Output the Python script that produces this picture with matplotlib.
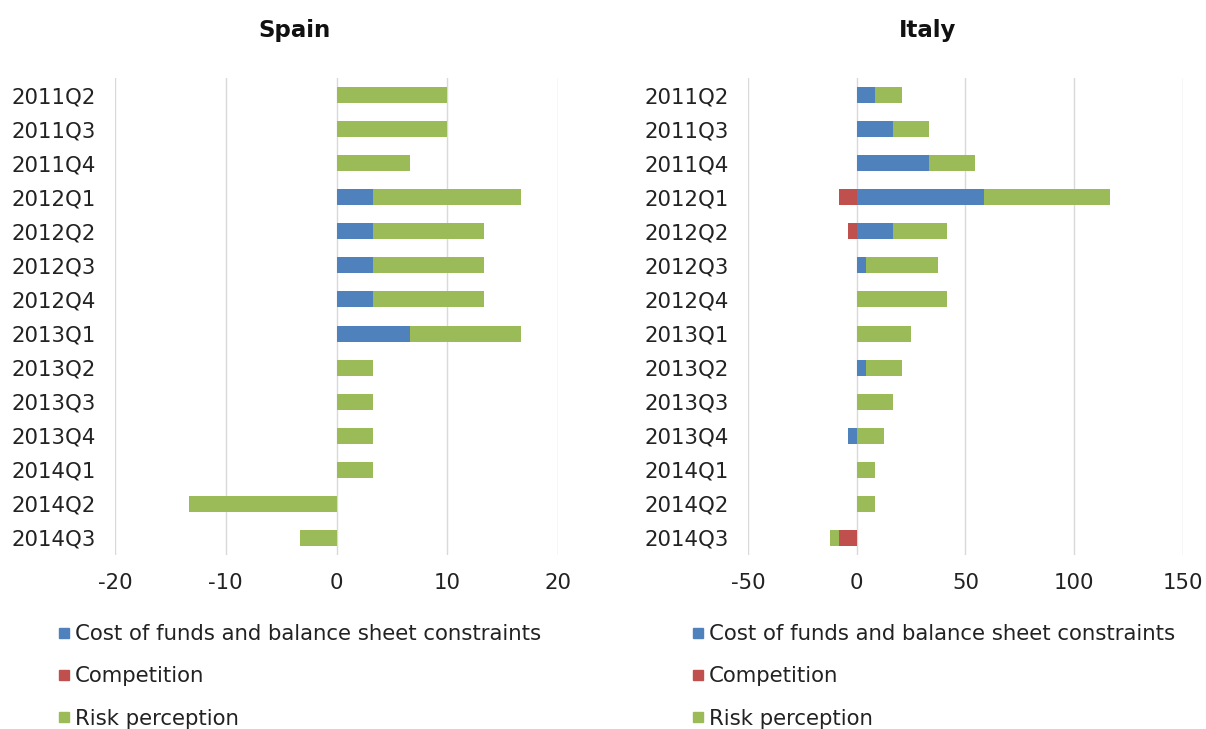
import numpy as np
import matplotlib
matplotlib.use("Agg")
import matplotlib.pyplot as plt
from matplotlib.lines import Line2D

quarters = ['2011Q2', '2011Q3', '2011Q4', '2012Q1', '2012Q2', '2012Q3', '2012Q4',
            '2013Q1', '2013Q2', '2013Q3', '2013Q4', '2014Q1', '2014Q2', '2014Q3']

series_names = ['Cost of funds and balance sheet constraints', 'Competition', 'Risk perception']
series_colors = ['#4F81BD', '#C0504D', '#9BBB59']

spain_cost = [0, 0, 0, 3.33, 3.33, 3.33, 3.33, 6.67, 0, 0, 0, 0, 0, 0]
spain_comp = [0, 0, 0, 0, 0, 0, 0, 0, 0, 0, 0, 0, 0, 0]
spain_risk = [10, 10, 6.67, 13.33, 10, 10, 10, 10, 3.33, 3.33, 3.33, 3.33, -13.33, -3.33]

italy_cost = [8.33, 16.67, 33.33, 58.33, 16.67, 4.17, 0, 0, 4.17, 0, -4.17, 0, 0, 0]
italy_comp = [0, 0, 0, -8.33, -4.17, 0, 0, 0, 0, 0, 0, 0, 0, -8.33]
italy_risk = [12.5, 16.67, 20.83, 58.33, 25, 33.33, 41.67, 25, 16.67, 16.67, 12.5, 8.33, 8.33, -4.17]

plt.rcParams['font.family'] = ['DejaVu Sans']
plt.rcParams['axes.unicode_minus'] = False

fig = plt.figure(figsize=(12.06, 7.29), dpi=100)
ax_es = fig.add_axes([115 / 1206, 1 - 555 / 729, 443 / 1206, 477 / 729])
ax_it = fig.add_axes([748 / 1206, 1 - 555 / 729, 435 / 1206, 477 / 729])


def stacked(ax, data, xlim, ticks):
    y = np.arange(len(quarters))
    pos = np.zeros(len(quarters))
    neg = np.zeros(len(quarters))
    for vals, color in zip(data, series_colors):
        vals = np.array(vals, dtype=float)
        left = np.where(vals >= 0, pos, neg)
        ax.barh(y, vals, left=left, height=0.47, color=color, zorder=3)
        pos += np.clip(vals, 0, None)
        neg += np.clip(vals, None, 0)
    ax.set_yticks(y)
    ax.set_yticklabels(quarters)
    ax.set_ylim(len(quarters) - 0.5, -0.5)
    ax.set_xlim(*xlim)
    ax.set_xticks(ticks)
    ax.grid(axis='x', color='#D9D9D9', linewidth=1.0, zorder=0)
    for s in ax.spines.values():
        s.set_visible(False)
    ax.tick_params(axis='y', length=0, pad=14, labelsize=15.3, colors='#222222')
    ax.tick_params(axis='x', length=0, pad=13, labelsize=15.3, colors='#222222')


stacked(ax_es, [spain_cost, spain_comp, spain_risk], (-20, 20), [-20, -10, 0, 10, 20])
stacked(ax_it, [italy_cost, italy_comp, italy_risk], (-50, 150), [-50, 0, 50, 100, 150])

fig.text(295 / 1206, 1 - 30 / 729, 'Spain', ha='center', va='center',
         fontsize=16.5, fontweight='bold', color='#111111')
fig.text(928 / 1206, 1 - 30 / 729, 'Italy', ha='center', va='center',
         fontsize=16.5, fontweight='bold', color='#111111')

handles = [Line2D([], [], linestyle='none', marker='s', markersize=6.5,
                  markerfacecolor=c, markeredgecolor=c) for c in series_colors]
for x0 in (59 / 1206, 693 / 1206):
    fig.legend(handles, series_names, loc='upper left',
               bbox_to_anchor=(x0, 1 - 624 / 729), frameon=False,
               fontsize=15.3, handlelength=0.45, handletextpad=0.3,
               labelspacing=1.05, borderpad=0, borderaxespad=0,
               labelcolor='#222222')

fig.savefig('out.png', dpi=100)
